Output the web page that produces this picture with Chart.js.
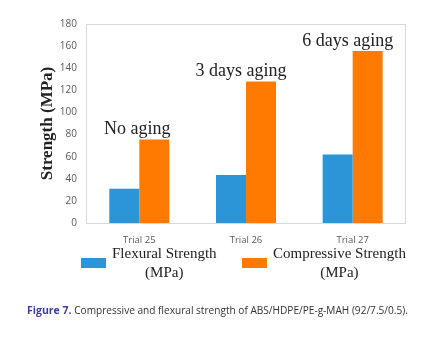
<!DOCTYPE html>
<html>
<head>
<meta charset="utf-8">
<script src="https://cdn.jsdelivr.net/npm/chart.js@4"></script>
<style>
 html, body { margin: 0; padding: 0; background: #fff; }
 #wrap { position: relative; width: 430px; height: 340px; }
</style>
</head>
<body>
<div id="wrap"><canvas id="strengthChart" width="430" height="340"></canvas></div>
<script>
const trials = ['Trial 25', 'Trial 26', 'Trial 27'];
const flexural = [31, 43.5, 62];
const compressive = [75.5, 128, 155.5];
const agingNotes = ['No aging', '3 days aging', '6 days aging'];
const yTicks = [0, 20, 40, 60, 80, 100, 120, 140, 160, 180];

const blue = '#2b95d8';
const orange = '#ff7a00';
const serif = '"Liberation Serif", "Times New Roman", serif';

// frame, aging notes, legend and caption
const extras = {
 id: 'extras',
 afterDraw(chart) {
  const ctx = chart.ctx;
  const a = chart.chartArea;
  const xs = chart.scales.x;
  const ys = chart.scales.y;
  ctx.save();

  ctx.strokeStyle = '#d9d9d9';
  ctx.lineWidth = 1;
  ctx.strokeRect(a.left + 0.5, a.top + 0.5, a.right - a.left - 1, a.bottom - a.top);

  ctx.fillStyle = '#222';
  ctx.font = '18px ' + serif;
  ctx.textAlign = 'center';
  ctx.textBaseline = 'middle';
  agingNotes.forEach((t, i) => {
   const top = Math.max(flexural[i], compressive[i]);
   const nudge = i === 0 ? -2 : -5;
   ctx.fillText(t, xs.getPixelForValue(i) + nudge, ys.getPixelForValue(top) - 10);
  });

  // legend
  const items = [
   { color: blue, lines: ['Flexural Strength', '(MPa)'], box: 81 },
   { color: orange, lines: ['Compressive Strength', '(MPa)'], box: 242 }
  ];
  ctx.font = '15px ' + serif;
  items.forEach(it => {
   ctx.fillStyle = it.color;
   ctx.fillRect(it.box, 258, 25, 10);
   ctx.fillStyle = '#222';
   ctx.textAlign = 'center';
   const w = ctx.measureText(it.lines[0]).width;
   const cx = it.box + 31 + w / 2;
   ctx.fillText(it.lines[0], cx, 254);
   ctx.fillText(it.lines[1], cx, 273);
  });

  // caption
  ctx.textAlign = 'left';
  ctx.font = 'bold 10.5px "Open Sans", sans-serif';
  ctx.fillStyle = '#3d3d9e';
  const lead = 'Figure 7.';
  ctx.fillText(lead, 27, 311);
  const lw = ctx.measureText(lead + ' ').width;
  ctx.font = '10.1px "Open Sans", sans-serif';
  ctx.fillStyle = '#333';
  ctx.fillText('Compressive and flexural strength of ABS/HDPE/PE-g-MAH (92/7.5/0.5).', 27 + lw, 311);
  ctx.restore();
 }
};

new Chart(document.getElementById('strengthChart'), {
 type: 'bar',
 data: {
  labels: trials,
  datasets: [
   { label: 'Flexural Strength (MPa)', data: flexural, backgroundColor: blue },
   { label: 'Compressive Strength (MPa)', data: compressive, backgroundColor: orange }
  ]
 },
 options: {
  responsive: false,
  animation: false,
  layout: { padding: { top: 24, right: 24, left: 0, bottom: 0 } },
  datasets: { bar: { barPercentage: 1, categoryPercentage: 0.5625 } },
  plugins: { legend: { display: false }, tooltip: { enabled: false } },
  scales: {
   x: {
    grid: { display: false },
    border: { display: false },
    ticks: { color: '#595959', font: { family: '"Open Sans", sans-serif', size: 9.5 }, padding: 4 },
    afterFit(s) { s.height = 117; }
   },
   y: {
    min: 0,
    max: 180,
    afterBuildTicks(s) { s.ticks = yTicks.map(v => ({ value: v })); },
    grid: { display: false },
    border: { display: false },
    ticks: { color: '#595959', font: { family: '"Open Sans", sans-serif', size: 10 }, padding: 1 },
    title: {
     display: true,
     text: 'Strength (MPa)',
     color: '#222',
     font: { family: serif, size: 17, weight: 'bold' },
     padding: { top: 37, bottom: 0 }
    },
    afterFit(s) { s.width = 86; }
   }
  }
 },
 plugins: [extras]
});
</script>
</body>
</html>
